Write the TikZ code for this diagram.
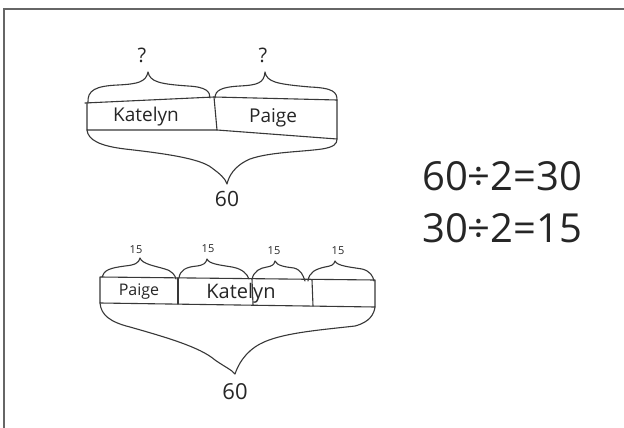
\documentclass[tikz,border=0pt]{standalone}
\usepackage{fontspec}
\setmainfont{Open Sans}
\begin{document}
\begin{tikzpicture}[x=1pt,y=-1pt,
  pencil/.style={draw=black!78,line width=1.1pt,line cap=round,line join=round},
  word/.style={inner sep=0pt,text=black!85},
  frameline/.style={draw=black!60,line width=1.4pt}]
\useasboundingbox (0,0) rectangle (624,428);
\fill[white] (0,0) rectangle (624,428);
% page edge
\draw[frameline] (4,428) -- (4,9) -- (624,9);

% ---- top model: two parts ----
\node[word,font=\fontsize{20}{20}\selectfont] (q1) at (142,55) {?};
\node[word,font=\fontsize{20}{20}\selectfont] (q2) at (263,55) {?};
\node[word,font=\fontsize{19}{19}\selectfont] (k1) at (146,117) {Katelyn};
\node[word,font=\fontsize{19}{19}\selectfont] (p1) at (273,118) {Paige};
\node[word,font=\fontsize{21}{21}\selectfont] (s1) at (227,199) {60};

% bars
\draw[pencil] (85,103) -- (214,97) -- (337,100) -- (337,139) -- (217,130);
\draw[pencil] (87,103) -- (87,130) -- (217,130) -- (214,97);
% upper braces
\draw[pencil] (88,103) .. controls (87,90) and (96,86) .. (118,85)
  .. controls (138,84) and (146,82) .. (148,72)
  .. controls (150,82) and (160,84) .. (188,86)
  .. controls (207,87) and (210,92) .. (210,98);
\draw[pencil] (215,98) .. controls (215,90) and (222,87) .. (240,86)
  .. controls (258,85) and (264,83) .. (265,72)
  .. controls (267,82) and (276,84) .. (310,87)
  .. controls (333,88) and (337,92) .. (337,100);
% lower brace
\draw[pencil] (87,130) .. controls (88,140) and (100,146) .. (125,149)
  .. controls (160,153) and (200,158) .. (212,168)
  .. controls (220,174) and (225,178) .. (227,184)
  .. controls (229,176) and (234,166) .. (250,159)
  .. controls (270,152) and (300,152) .. (322,149)
  .. controls (334,147) and (337,144) .. (337,139);

% ---- equations ----
\node[word,font=\fontsize{40}{40}\selectfont,anchor=west] (e1) at (422,176) {60÷2=30};
\node[word,font=\fontsize{40}{40}\selectfont,anchor=west] (e2) at (422,228) {30÷2=15};

% ---- bottom model: four parts ----
\node[word,font=\fontsize{11}{11}\selectfont] (f1) at (136,250) {15};
\node[word,font=\fontsize{11}{11}\selectfont] (f2) at (208,249) {15};
\node[word,font=\fontsize{11}{11}\selectfont] (f3) at (274,251) {15};
\node[word,font=\fontsize{11}{11}\selectfont] (f4) at (338,251) {15};
\node[word,font=\fontsize{16}{16}\selectfont] (p2) at (139,292) {Paige};
\node[word,font=\fontsize{20}{20}\selectfont] (k2) at (241,293) {Katelyn};
\node[word,font=\fontsize{22}{22}\selectfont] (s2) at (235,392) {60};

% bar
\draw[pencil] (100,277) -- (375,280) -- (375,307) -- (100,303) -- cycle;
\draw[pencil] (178,278) -- (178,304);
\draw[pencil] (252,279) -- (253,305);
\draw[pencil] (312,280) -- (313,306);
% small braces
\draw[pencil] (102,277) .. controls (104,270) and (110,268) .. (125,266)
  .. controls (135,265) and (139,263) .. (140,258)
  .. controls (142,264) and (155,266) .. (165,269)
  .. controls (172,271) and (175,275) .. (176,279);
\draw[pencil] (179,278) .. controls (180,270) and (186,267) .. (197,266)
  .. controls (204,265) and (206,263) .. (207,259)
  .. controls (209,264) and (220,265) .. (232,267)
  .. controls (243,269) and (247,274) .. (249,279);
\draw[pencil] (252,279) .. controls (254,271) and (260,268) .. (267,267)
  .. controls (272,266) and (274,265) .. (275,261)
  .. controls (277,266) and (286,267) .. (294,268)
  .. controls (301,270) and (303,275) .. (305,281);
\draw[pencil] (308,281) .. controls (309,272) and (316,269) .. (325,267)
  .. controls (331,266) and (334,265) .. (335,261)
  .. controls (337,266) and (350,267) .. (362,269)
  .. controls (370,271) and (373,276) .. (374,281);
% large brace
\draw[pencil] (100,303) .. controls (101,315) and (110,322) .. (130,327)
  .. controls (165,337) and (200,347) .. (215,360)
  .. controls (225,367) and (232,370) .. (235,374)
  .. controls (238,365) and (245,352) .. (260,344)
  .. controls (280,333) and (320,330) .. (355,326)
  .. controls (370,322) and (374,314) .. (375,307);
\end{tikzpicture}
\end{document}
